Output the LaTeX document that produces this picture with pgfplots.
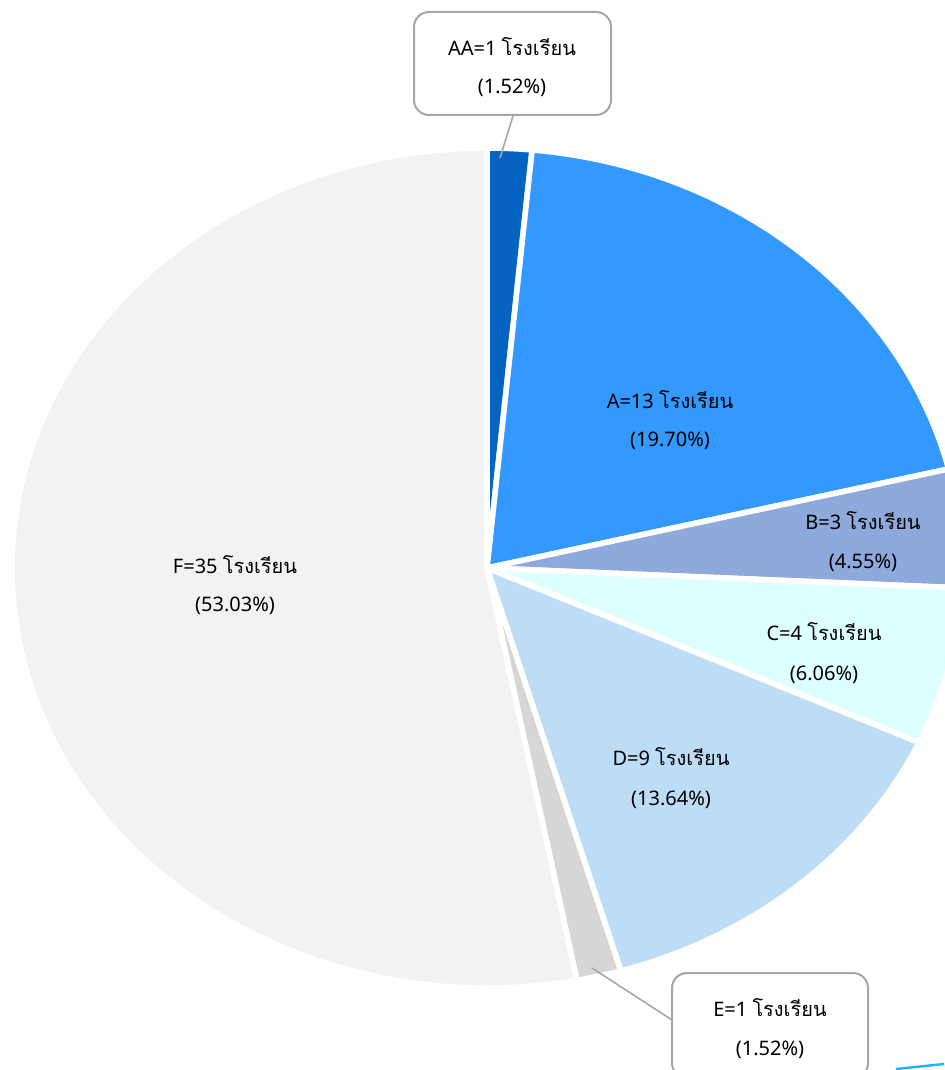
\documentclass[border=0pt]{standalone}
\usepackage{pgfplots}
\usepackage{pgfplotstable}
\pgfplotsset{compat=1.18}
\usepackage{fontspec}
\setmainfont{Noto Sans}
\newfontfamily\thaifont[Script=Thai]{Loma}
\newcommand{\rr}{{\thaifont โรงเรียน}}

\definecolor{cAA}{HTML}{0563C1}
\definecolor{cA}{HTML}{3399FF}
\definecolor{cB}{HTML}{8EA9DB}
\definecolor{cC}{HTML}{DDFFFF}
\definecolor{cD}{HTML}{BDDCF6}
\definecolor{cE}{HTML}{D6D6D6}
\definecolor{cF}{HTML}{F2F2F2}
\definecolor{txt}{HTML}{404040}
\definecolor{boxline}{HTML}{A6A6A6}

% schools per grade, clockwise from the top
\pgfplotstableread{
name value color
AA   1     cAA
A    13    cA
B    3     cB
C    4     cC
D    9     cD
E    1     cE
F    35    cF
}\piedata

\begin{document}
\begin{tikzpicture}
\begin{axis}[
    name=ax,
    scale only axis,
    width=472pt, height=535pt,
    xmin=0, xmax=944, ymin=0, ymax=1070,
    y dir=reverse,
    hide axis,
    clip=false,
    every node/.style={text=txt, font=\fontsize{10.5}{12}\selectfont},
]
\pgfplotstablegetrowsof{\piedata}
\pgfmathtruncatemacro{\last}{\pgfplotsretval-1}
\def\total{0}
\pgfplotsforeachungrouped \i in {0,...,\last}{%
  \pgfplotstablegetelem{\i}{value}\of\piedata
  \pgfmathsetmacro{\total}{\total+\pgfplotsretval}%
}
\def\cum{0}
\pgfplotsforeachungrouped \i in {0,...,\last}{%
  \pgfplotstablegetelem{\i}{value}\of\piedata
  \pgfmathsetmacro{\a}{90-\cum/\total*360}%
  \pgfmathsetmacro{\cum}{\cum+\pgfplotsretval}%
  \pgfmathsetmacro{\b}{90-\cum/\total*360}%
  \pgfplotstablegetelem{\i}{color}\of\piedata
  \edef\temp{\noexpand\filldraw[fill=\pgfplotsretval, draw=white,
      line width=2.8pt, line join=round]
    (axis cs:487,568) -- ++(\a:237.5pt and 210pt)
    arc[start angle=\a, end angle=\b, x radius=237.5pt, y radius=210pt]
    -- cycle;}%
  \temp
}

% callout boxes
\draw[boxline, line width=0.8pt] (axis cs:513,116) -- (axis cs:500,158);
\draw[boxline, line width=0.8pt] (axis cs:592,968) -- (axis cs:672,1020);
\draw[boxline, line width=1pt, fill=white, rounded corners=7.5pt]
  (axis cs:414,12) rectangle (axis cs:611,115);
\draw[boxline, line width=1pt, fill=white, rounded corners=7.5pt]
  (axis cs:672,973) rectangle (axis cs:868,1078);
% stray blue stroke in the corner of the source
\draw[color=cA!80!cyan, line width=1.2pt] (axis cs:896,1069) -- (axis cs:944,1064);

\node at (axis cs:512,47) {AA=1 \rr};
\node at (axis cs:512,88) {(1.52\%)};
\node at (axis cs:670,400) {A=13 \rr};
\node at (axis cs:670,441) {(19.70\%)};
\node at (axis cs:863,521) {B=3 \rr};
\node at (axis cs:863,563) {(4.55\%)};
\node at (axis cs:824,632) {C=4 \rr};
\node at (axis cs:824,675) {(6.06\%)};
\node at (axis cs:671,757) {D=9 \rr};
\node at (axis cs:671,800) {(13.64\%)};
\node at (axis cs:770,1008) {E=1 \rr};
\node at (axis cs:770,1050) {(1.52\%)};
\node at (axis cs:235,565) {F=35 \rr};
\node at (axis cs:235,606) {(53.03\%)};
\end{axis}
\pgfresetboundingbox
\path (ax.south west) rectangle (ax.north east);
\end{tikzpicture}
\end{document}
